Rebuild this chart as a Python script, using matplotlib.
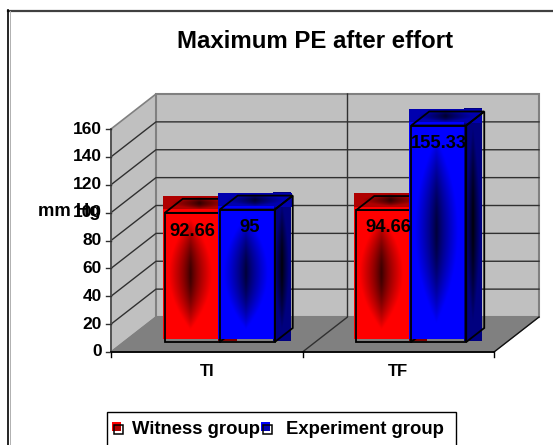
import numpy as np
import matplotlib
matplotlib.use('Agg')
from matplotlib import pyplot as plt
from matplotlib.patches import Polygon, Rectangle

plt.rcParams['font.family'] = ['Liberation Sans', 'DejaVu Sans']

categories = ['TI', 'TF']
series_names = ['Witness group', 'Experiment group']
witness_values = [92.66, 94.66]
experiment_values = [95, 155.33]
value_ticks = [0, 20, 40, 60, 80, 100, 120, 140, 160]

W, H = 553, 445
X0, CAT_W = 111, 191.5   # pixel of category 0 and pixels per category
Y0, UNIT = 352, 223 / 160  # pixel of value 0 and pixels per unit

fig = plt.figure(figsize=(W / 100, H / 100), dpi=100)
ax = fig.add_axes([0, 0, 1, 1])
ax.set_xlim(-X0 / CAT_W, (W - X0) / CAT_W)
ax.set_ylim((Y0 - H) / UNIT, Y0 / UNIT)
ax.axis('off')


def dx(px):
    return px / CAT_W


def dy(px):
    return px / UNIT


def poly(points, **kw):
    ax.add_patch(Polygon(points, closed=True, **kw))


def gradient_face(x0, x1, y0, y1, color, dark=0.0, zorder=3):
    # dark centre fading out to the flat colour, like the old office "from centre" fill
    u = np.abs(np.linspace(-1, 1, 60))
    v = np.abs(np.linspace(-1, 1, 90))
    t = (u * 1.25)[None, :] + (v * 1.15)[:, None] ** 2
    t = np.clip(t, 0, 1)[..., None] ** 0.75
    img = np.array(color)[None, None, :] * (dark + (1 - dark) * t)
    ax.imshow(img, extent=[x0, x1, y0, y1], origin='lower', aspect='auto',
              interpolation='bilinear', zorder=zorder)


# walls and floor
DEPTH_X, DEPTH_Y = dx(45), dy(35)
top = value_ticks[-1]
poly([(0, 0), (DEPTH_X, DEPTH_Y), (DEPTH_X, top + DEPTH_Y), (0, top)],
     facecolor='#c0c0c0', edgecolor='#808080', lw=1.2, zorder=1)
ax.add_patch(Rectangle((DEPTH_X, DEPTH_Y), 2, top, facecolor='#c0c0c0',
                       edgecolor='#808080', lw=1.5, zorder=1))
poly([(0, 0), (2, 0), (2 + DEPTH_X, DEPTH_Y), (DEPTH_X, DEPTH_Y)],
     facecolor='#808080', edgecolor='#808080', lw=0.8, zorder=1)

for v in value_ticks[1:-1]:
    ax.plot([0, DEPTH_X, 2 + DEPTH_X], [v, v + DEPTH_Y, v + DEPTH_Y], color='#303030', lw=1.0, zorder=2)
ax.plot([1, 1 + DEPTH_X, 1 + DEPTH_X], [0, DEPTH_Y, top + DEPTH_Y], color='#303030', lw=1.0, zorder=2)
ax.plot([2, 2 + DEPTH_X], [0, DEPTH_Y], color='#101010', lw=1.0, zorder=2)

# axes
ax.plot([0, 0], [0, top], color='#505050', lw=1.3, zorder=2)
ax.plot([0, 2], [0, 0], color='black', lw=1.3, zorder=2)
for v in value_ticks:
    ax.plot([-dx(5), 0], [v, v], color='#303030', lw=1, zorder=2)
    ax.text(-dx(9), v, str(v), ha='right', va='center', fontsize=12.5, fontweight='bold', zorder=6)
for i in range(3):
    ax.plot([i, i], [0, -dy(5)], color='black', lw=1, zorder=2)
for i, name in enumerate(categories):
    ax.text(i + 0.5, -dy(19), name, ha='center', va='center', fontsize=12, fontweight='bold', zorder=6)

# bars
BAR_W = 55 / CAT_W
FRONT_X, FRONT_Y = dx(13), dy(10)  # bar front plane inside the depth
SIDE_X, SIDE_Y = dx(18), dy(14)
FILL_X, FILL_Y = dx(2), dy(3)  # fills sit slightly off the outlines, as in the source
series = [(witness_values, (1.0, 0, 0), (0.69, 0, 0), (0.5, 0, 0), -1),
          (experiment_values, (0, 0, 1.0), (0, 0, 0.69), (0, 0, 0.5), 0)]
nudges = [[(0, 19), (5, 17.5)], [(2.5, 17.5), (0, 17.5)]]

for i, name in enumerate(categories):
    for s, (values, front, upper, side, pos) in enumerate(series):
        val = values[i]
        x0 = i + 0.5 + FRONT_X + pos * BAR_W
        x1 = x0 + BAR_W
        y0 = FRONT_Y
        y1 = FRONT_Y + val
        z = 3 + s * 0.5 + i
        fx0, fx1 = x0 - FILL_X, x1 - FILL_X
        fy0, fy1 = y0 + FILL_Y, y1 + FILL_Y
        # side, top and front fills
        gradient_face(fx1, fx1 + SIDE_X, y0 + dy(1), fy1 + SIDE_Y, side, zorder=z)
        gradient_face(fx0, fx1 + SIDE_X, fy1, fy1 + SIDE_Y, upper, dark=0.25, zorder=z)
        gradient_face(fx0, fx1, fy0, fy1, front, dark=0.2, zorder=z)
        # outlines
        poly([(x0, y0), (x1, y0), (x1, y1), (x0, y1)], fill=False, edgecolor='black', lw=1.3, zorder=z + 0.1)
        poly([(x0, y1), (x0 + SIDE_X, y1 + SIDE_Y), (x1 + SIDE_X, y1 + SIDE_Y), (x1, y1)],
             fill=False, edgecolor='black', lw=1.3, zorder=z + 0.1)
        poly([(x1, y0), (x1 + SIDE_X, y0 + SIDE_Y), (x1 + SIDE_X, y1 + SIDE_Y), (x1, y1)],
             fill=False, edgecolor='black', lw=1.3, zorder=z + 0.1)
        nx, ny = nudges[s][i]
        ax.text((x0 + x1) / 2 + dx(nx), y1 - dy(ny), str(val), ha='center', va='center',
                fontsize=13.2, fontweight='bold', zorder=8)

# title, unit label, frame
ax.text((315 - X0) / CAT_W, (Y0 - 41.5) / UNIT, 'Maximum PE after effort', ha='center', va='center',
        fontsize=17.3, fontweight='bold', zorder=8)
ax.text((38 - X0) / CAT_W, (Y0 - 212) / UNIT, 'mm Hg', ha='left', va='center',
        fontsize=13.3, fontweight='bold', zorder=6)


def px_x(p):
    return (p - X0) / CAT_W


def px_y(p):
    return (Y0 - p) / UNIT


def px_rect(l, t, r, b, **kw):
    ax.add_patch(Rectangle((px_x(l), px_y(b)), (r - l) / CAT_W, (b - t) / UNIT, **kw))


# only the top and left edges of the chart frame show in the reference
ax.plot([px_x(8), px_x(W)], [px_y(10.5), px_y(10.5)], color='#404040', lw=1.6, zorder=0)
ax.plot([px_x(8.5), px_x(8.5)], [px_y(10), px_y(H)], color='black', lw=1.2, zorder=0)
ax.plot([px_x(9.6), px_x(9.6)], [px_y(11), px_y(H)], color='#b0b0b0', lw=0.7, zorder=0)
px_rect(107, 412, 456, 470, facecolor='white', edgecolor='black', lw=1.0, zorder=5)

# legend
for name, lx, tx, key, key2 in [(series_names[0], 112, 132, '#ff0000', '#b00000'),
                                (series_names[1], 261, 286, '#0000ff', '#0000b0')]:
    px_rect(lx, 422, lx + 9, 431, facecolor=key, edgecolor='none', zorder=6)
    px_rect(lx + 3, 425, lx + 9, 431, facecolor=key2, edgecolor='none', zorder=6.1)
    px_rect(lx + 2, 425, lx + 11, 434, fill=False, edgecolor='black', lw=1.1, zorder=6.2)
    ax.text(px_x(tx), px_y(429.5), name, ha='left', va='center',
            fontsize=13.3, fontweight='bold', zorder=7)

fig.savefig('out.png', dpi=100)
